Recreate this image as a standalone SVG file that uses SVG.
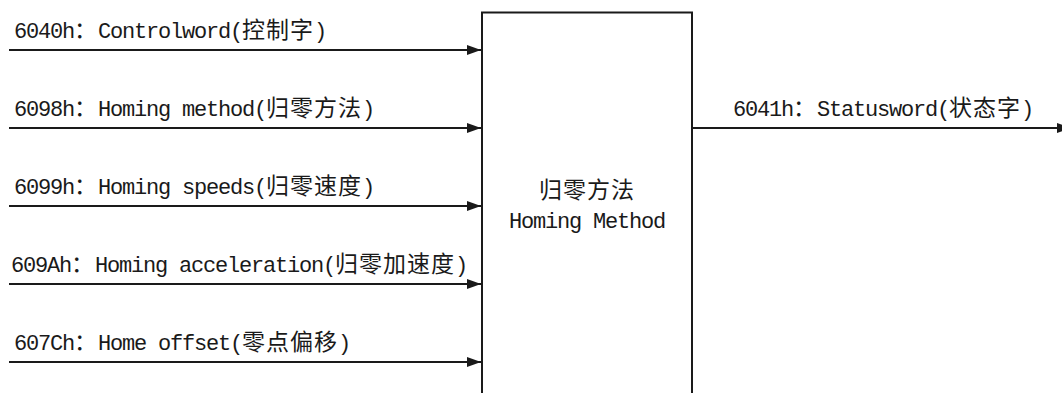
<svg xmlns="http://www.w3.org/2000/svg" width="1062" height="393" viewBox="0 0 1062 393">
  <style>
    .lat { font-family: "Liberation Mono", "DejaVu Sans Mono", monospace; font-size: 22px; letter-spacing: -1.2px; fill: #1a1a1a; }
    .cjk { font-family: "Noto Sans CJK SC", sans-serif; font-size: 23px; letter-spacing: 1px; fill: #1a1a1a; }
    .wire { stroke: #1a1a1a; stroke-width: 2; fill: none; }
    .box { stroke: #1a1a1a; stroke-width: 2; fill: #ffffff; }
  </style>
  <defs>
    <marker id="arr" markerUnits="userSpaceOnUse" markerWidth="14" markerHeight="10" refX="14" refY="5" orient="auto">
      <path d="M0,0 L14,5 L0,10 z" fill="#1a1a1a"/>
    </marker>
  </defs>
  <rect width="1062" height="393" fill="#ffffff"/>

  <g id="connectors">
    <line class="wire" x1="9" y1="50" x2="481" y2="50" marker-end="url(#arr)"/>
    <line class="wire" x1="9" y1="128" x2="481" y2="128" marker-end="url(#arr)"/>
    <line class="wire" x1="9" y1="206" x2="481" y2="206" marker-end="url(#arr)"/>
    <line class="wire" x1="9" y1="284" x2="481" y2="284" marker-end="url(#arr)"/>
    <line class="wire" x1="9" y1="362" x2="481" y2="362" marker-end="url(#arr)"/>
    <line class="wire" x1="692" y1="128" x2="1071" y2="128" marker-end="url(#arr)"/>
  </g>

  <g id="node-homing">
    <rect class="box" x="482" y="12.5" width="210" height="420"/>
    <text class="cjk" x="539" y="198">归零方法</text>
    <text class="lat" x="509" y="228">Homing Method</text>
  </g>

  <g id="label-6040">
    <text y="38"><tspan class="lat" x="14">6040h</tspan><tspan class="cjk" x="74">：</tspan><tspan class="lat" x="98">Controlword(</tspan><tspan class="cjk" x="242">控制字</tspan><tspan class="lat" x="314">)</tspan></text>
  </g>
  <g id="label-6098">
    <text y="116"><tspan class="lat" x="14">6098h</tspan><tspan class="cjk" x="74">：</tspan><tspan class="lat" x="98">Homing method(</tspan><tspan class="cjk" x="266">归零方法</tspan><tspan class="lat" x="362">)</tspan></text>
  </g>
  <g id="label-6099">
    <text y="194"><tspan class="lat" x="14">6099h</tspan><tspan class="cjk" x="74">：</tspan><tspan class="lat" x="98">Homing speeds(</tspan><tspan class="cjk" x="266">归零速度</tspan><tspan class="lat" x="362">)</tspan></text>
  </g>
  <g id="label-609A">
    <text y="272"><tspan class="lat" x="11">609Ah</tspan><tspan class="cjk" x="71">：</tspan><tspan class="lat" x="95">Homing acceleration(</tspan><tspan class="cjk" x="335">归零加速度</tspan><tspan class="lat" x="455">)</tspan></text>
  </g>
  <g id="label-607C">
    <text y="350"><tspan class="lat" x="14">607Ch</tspan><tspan class="cjk" x="74">：</tspan><tspan class="lat" x="98">Home offset(</tspan><tspan class="cjk" x="242">零点偏移</tspan><tspan class="lat" x="338">)</tspan></text>
  </g>
  <g id="label-6041">
    <text y="116"><tspan class="lat" x="733">6041h</tspan><tspan class="cjk" x="793">：</tspan><tspan class="lat" x="817">Statusword(</tspan><tspan class="cjk" x="949">状态字</tspan><tspan class="lat" x="1021">)</tspan></text>
  </g>
</svg>
